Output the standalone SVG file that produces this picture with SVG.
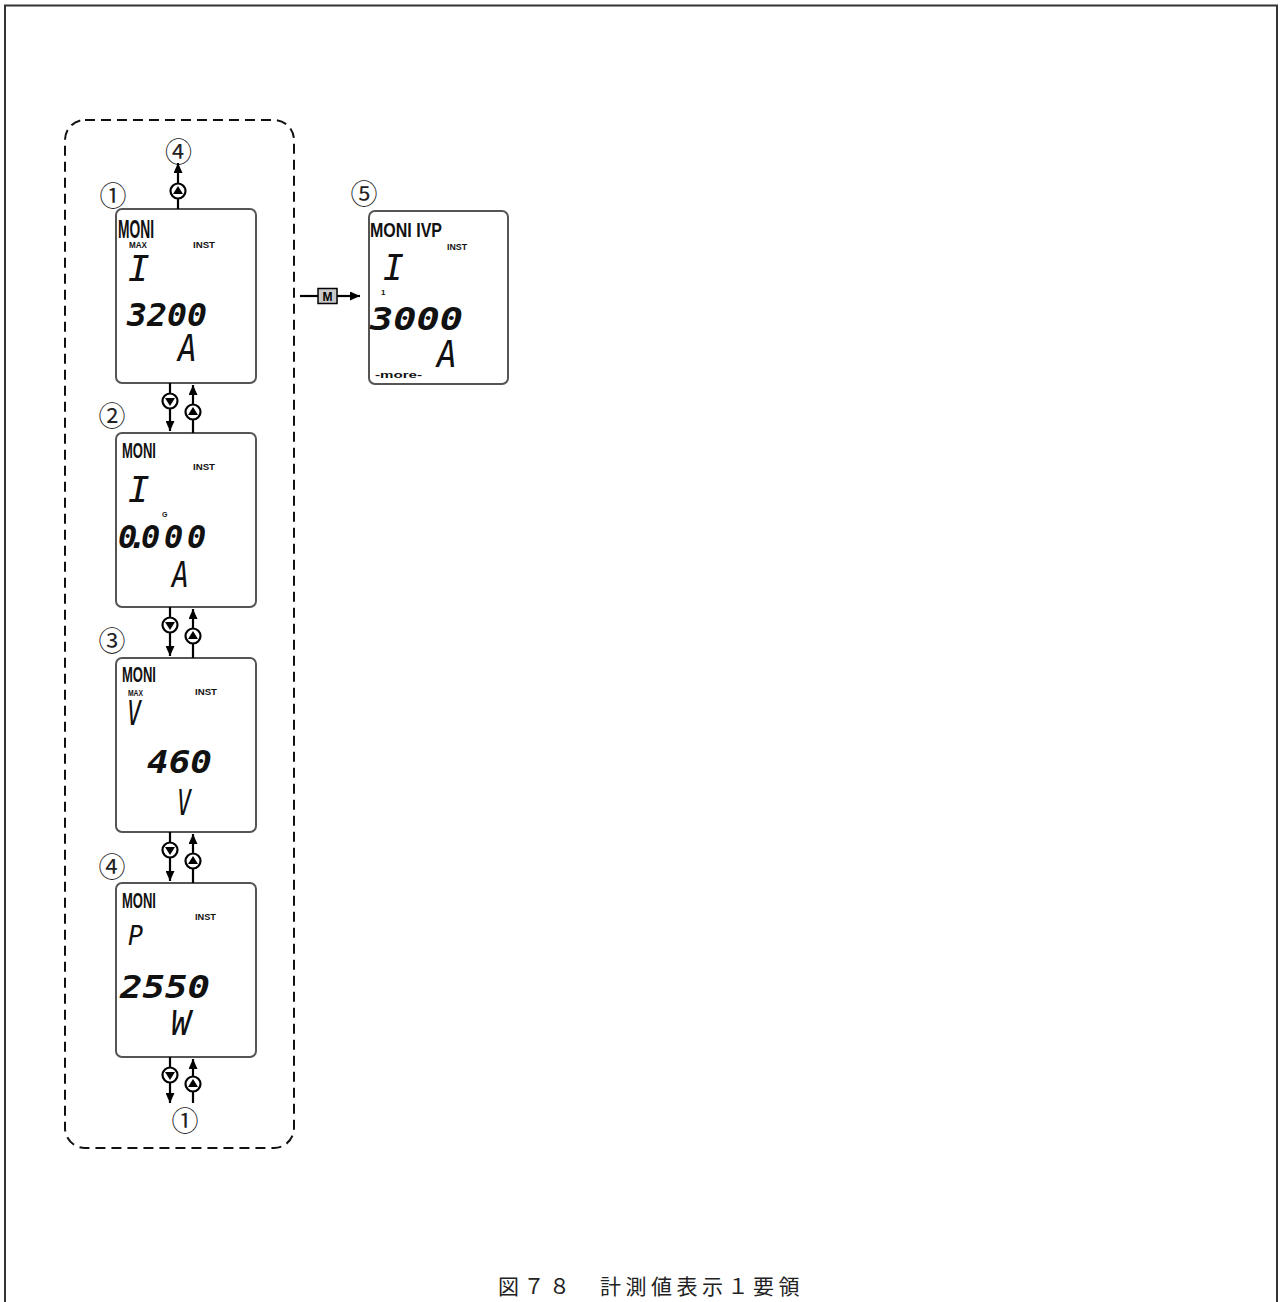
<svg xmlns="http://www.w3.org/2000/svg" width="1282" height="1302" viewBox="0 0 1282 1302">
<defs>
<marker id="ah" markerUnits="userSpaceOnUse" markerWidth="10" markerHeight="9" refX="10" refY="4.5" orient="auto">
<path d="M0,0 L10,4.5 L0,9 z" fill="#000"/>
</marker>
<style>
.frame{fill:none;stroke:#333;stroke-width:2}
.dash{fill:none;stroke:#111;stroke-width:2;stroke-dasharray:10 6}
.lcd{fill:#fff;stroke:#555;stroke-width:2}
.lbl{font-family:"Liberation Sans Narrow","Liberation Sans",Arial,sans-serif;font-weight:bold;fill:#111}
.seg{font-family:"DejaVu Sans Mono",monospace;font-style:italic;font-weight:bold;fill:#111}
.let{font-family:"DejaVu Sans Mono",monospace;font-style:italic;font-weight:normal;fill:#111}
.num{font-family:"Noto Sans CJK JP",sans-serif;font-size:27px;fill:#222;text-anchor:middle}
.ln{stroke:#000;stroke-width:2.2;fill:none}
.btn{fill:#fff;stroke:#000;stroke-width:2.2}
.cap{font-family:"Noto Sans CJK JP",sans-serif;font-size:21px;fill:#222;letter-spacing:4.5px}
</style>
</defs>
<rect width="1282" height="1302" fill="#fff"/>
<path class="frame" d="M5,1302 V5.5 H1277 V1302"/>
<rect class="dash" x="65" y="120" width="229" height="1028" rx="20"/>

<g id="display1">
<rect class="lcd" x="116" y="209" width="140" height="174" rx="6"/>
<text class="lbl" x="118" y="238" font-size="26" textLength="36" lengthAdjust="spacingAndGlyphs">MONI</text>
<text class="lbl" x="129" y="248" font-size="9.5" textLength="18" lengthAdjust="spacingAndGlyphs">MAX</text>
<text class="lbl" x="193" y="248" font-size="9.5" textLength="22" lengthAdjust="spacingAndGlyphs">INST</text>
<text class="let" x="128" y="281" font-size="36">I</text>
<text class="seg" x="127" y="326" font-size="32" textLength="80" lengthAdjust="spacingAndGlyphs">3200</text>
<text class="let" x="178" y="361" font-size="38" textLength="19" lengthAdjust="spacingAndGlyphs">A</text>
<text class="num" x="113" y="206">①</text>
</g>

<g id="display2">
<rect class="lcd" x="116" y="433" width="140" height="174" rx="6"/>
<text class="lbl" x="122" y="458" font-size="22" textLength="34" lengthAdjust="spacingAndGlyphs">MONI</text>
<text class="lbl" x="193" y="470" font-size="9.5" textLength="22" lengthAdjust="spacingAndGlyphs">INST</text>
<text class="let" x="128" y="502" font-size="36">I</text>
<text class="lbl" x="162" y="517" font-size="7">G</text>
<text class="seg" x="118 128 141 164 187" y="548" font-size="32">0.000</text>
<text class="let" x="172" y="587" font-size="35" textLength="17" lengthAdjust="spacingAndGlyphs">A</text>
<text class="num" x="112" y="426">②</text>
</g>

<g id="display3">
<rect class="lcd" x="116" y="658" width="140" height="174" rx="6"/>
<text class="lbl" x="122" y="682" font-size="22" textLength="34" lengthAdjust="spacingAndGlyphs">MONI</text>
<text class="lbl" x="128" y="696" font-size="9.5" textLength="15" lengthAdjust="spacingAndGlyphs">MAX</text>
<text class="lbl" x="195" y="695" font-size="9.5" textLength="22" lengthAdjust="spacingAndGlyphs">INST</text>
<text class="let" x="127" y="725" font-size="34" textLength="14" lengthAdjust="spacingAndGlyphs">V</text>
<text class="seg" x="147" y="773" font-size="32" textLength="65" lengthAdjust="spacingAndGlyphs">460</text>
<text class="let" x="177" y="815" font-size="36" textLength="14" lengthAdjust="spacingAndGlyphs">V</text>
<text class="num" x="112" y="651">③</text>
</g>

<g id="display4">
<rect class="lcd" x="116" y="883" width="140" height="174" rx="6"/>
<text class="lbl" x="122" y="908" font-size="22" textLength="34" lengthAdjust="spacingAndGlyphs">MONI</text>
<text class="lbl" x="195" y="920" font-size="9.5" textLength="21" lengthAdjust="spacingAndGlyphs">INST</text>
<text class="let" x="128" y="945" font-size="26" textLength="15" lengthAdjust="spacingAndGlyphs">P</text>
<text class="seg" x="120" y="998" font-size="31" textLength="90" lengthAdjust="spacingAndGlyphs">2550</text>
<text class="let" x="171" y="1035" font-size="34" textLength="20" lengthAdjust="spacingAndGlyphs">W</text>
<text class="num" x="112" y="877">④</text>
</g>

<g id="display5">
<rect class="lcd" x="369" y="211" width="139" height="173" rx="6"/>
<text class="lbl" x="370" y="237" font-size="20" textLength="72" lengthAdjust="spacingAndGlyphs">MONI IVP</text>
<text class="lbl" x="447" y="250" font-size="9.5" textLength="20" lengthAdjust="spacingAndGlyphs">INST</text>
<text class="let" x="383" y="280" font-size="35">I</text>
<text class="lbl" x="381" y="295" font-size="8">1</text>
<text class="seg" x="370" y="330" font-size="32" textLength="93" lengthAdjust="spacingAndGlyphs">3000</text>
<text class="let" x="437" y="367" font-size="37" textLength="20" lengthAdjust="spacingAndGlyphs">A</text>
<text class="lbl" x="375" y="378" font-size="9" textLength="47" lengthAdjust="spacingAndGlyphs" fill="#333">-more-</text>
<text class="num" x="364" y="204">⑤</text>
</g>

<g id="labels">
<text class="num" x="178.5" y="162">④</text>
<text class="num" x="185" y="1131">①</text>
</g>

<g id="connectors">
<line class="ln" x1="178" y1="209" x2="178" y2="163" marker-end="url(#ah)"/>
<line class="ln" x1="170" y1="383" x2="170" y2="431" marker-end="url(#ah)"/>
<line class="ln" x1="193" y1="433" x2="193" y2="385" marker-end="url(#ah)"/>
<line class="ln" x1="170" y1="607" x2="170" y2="656" marker-end="url(#ah)"/>
<line class="ln" x1="193" y1="658" x2="193" y2="609" marker-end="url(#ah)"/>
<line class="ln" x1="170" y1="832" x2="170" y2="881" marker-end="url(#ah)"/>
<line class="ln" x1="193" y1="883" x2="193" y2="834" marker-end="url(#ah)"/>
<line class="ln" x1="170" y1="1057" x2="170" y2="1103" marker-end="url(#ah)"/>
<line class="ln" x1="193" y1="1103" x2="193" y2="1059" marker-end="url(#ah)"/>
<circle class="btn" cx="178" cy="191" r="7.5"/><path d="M178,186 L183,194 L173,194 z"/>
<circle class="btn" cx="170" cy="401" r="7.5"/><path d="M165,398 L175,398 L170,406 z"/>
<circle class="btn" cx="193" cy="412" r="7.5"/><path d="M193,407 L198,415 L188,415 z"/>
<circle class="btn" cx="170" cy="625" r="7.5"/><path d="M165,622 L175,622 L170,630 z"/>
<circle class="btn" cx="193" cy="636" r="7.5"/><path d="M193,631 L198,639 L188,639 z"/>
<circle class="btn" cx="170" cy="850" r="7.5"/><path d="M165,847 L175,847 L170,855 z"/>
<circle class="btn" cx="193" cy="861" r="7.5"/><path d="M193,856 L198,864 L188,864 z"/>
<circle class="btn" cx="170" cy="1075" r="7.5"/><path d="M165,1072 L175,1072 L170,1080 z"/>
<circle class="btn" cx="193" cy="1084" r="7.5"/><path d="M193,1079 L198,1087 L188,1087 z"/>
<line class="ln" x1="300" y1="296" x2="318" y2="296"/>
<line class="ln" x1="337" y1="296" x2="360" y2="296" marker-end="url(#ah)"/>
<rect x="318" y="288.5" width="19" height="15" fill="#c8c8c8" stroke="#000" stroke-width="1.5"/>
<text x="327.5" y="301" font-family="Liberation Sans,Arial,sans-serif" font-weight="bold" font-size="12" text-anchor="middle">M</text>
</g>

<text id="caption" class="cap" x="498" y="1294">図７８　計測値表示１要領</text>
</svg>
